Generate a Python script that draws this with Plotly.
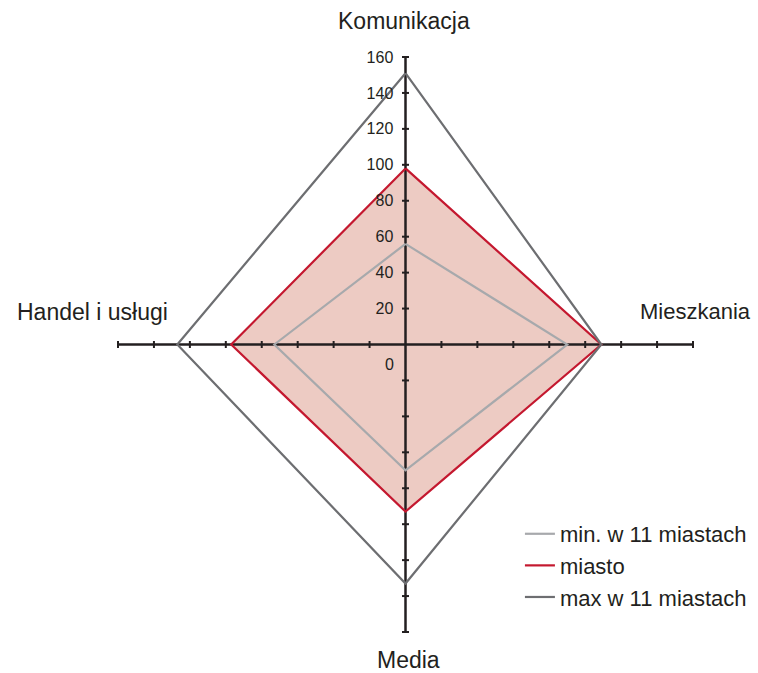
import plotly.graph_objects as go

# ---- data ----
categories = ["Komunikacja", "Mieszkania", "Media", "Handel i usługi"]
min_vals = [56, 90, 70, 73]
city_vals = [98, 109, 93, 97]
max_vals = [151, 109, 133, 127]
series_names = ["min. w 11 miastach", "miasto", "max w 11 miastach"]
axis_max = 160
tick_step = 20
tick_labels = ["20", "40", "60", "80", "100", "120", "140", "160"]

FONT = "Liberation Sans, Arial, Helvetica, sans-serif"
TXT = "#231F20"
AX = "#231F20"
C_MIN = "#A7A9AC"
C_CITY = "#C4182F"
C_MAX = "#6D6E71"
C_FILL = "rgba(222,160,146,0.55)"

# direction of each category arm: (dx, dy)
dirs = [(0, 1), (1, 0), (0, -1), (-1, 0)]


def to_xy(vals):
    xs = [v * d[0] for v, d in zip(vals, dirs)]
    ys = [v * d[1] for v, d in zip(vals, dirs)]
    return xs + xs[:1], ys + ys[:1]


fig = go.Figure()

# city fill
cx, cy = to_xy(city_vals)
fig.add_trace(go.Scatter(x=cx, y=cy, mode="none", fill="toself", fillcolor=C_FILL,
                         showlegend=False, hoverinfo="skip"))

# axes arms
fig.add_trace(go.Scatter(x=[-axis_max, axis_max], y=[0, 0], mode="lines",
                         line=dict(color=AX, width=2.5), showlegend=False,
                         hoverinfo="skip", cliponaxis=False))
fig.add_trace(go.Scatter(x=[0, 0], y=[-axis_max, axis_max], mode="lines",
                         line=dict(color=AX, width=2.5), showlegend=False,
                         hoverinfo="skip", cliponaxis=False))

# tick marks
tk = [t for t in range(-axis_max, axis_max + 1, tick_step) if t != 0]
fig.add_trace(go.Scatter(x=tk, y=[0] * len(tk), mode="markers",
                         marker=dict(symbol="line-ns", size=5, line=dict(color=AX, width=2)),
                         showlegend=False, hoverinfo="skip", cliponaxis=False))
fig.add_trace(go.Scatter(x=[0] * len(tk), y=tk, mode="markers",
                         marker=dict(symbol="line-ew", size=5, line=dict(color=AX, width=2)),
                         showlegend=False, hoverinfo="skip", cliponaxis=False))

# series lines
for vals, name, col in [(min_vals, series_names[0], C_MIN),
                        (city_vals, series_names[1], C_CITY),
                        (max_vals, series_names[2], C_MAX)]:
    x, y = to_xy(vals)
    fig.add_trace(go.Scatter(x=x, y=y, mode="lines", name=name, legendgroup=name,
                             line=dict(color=col, width=2.2), cliponaxis=False))

# category labels
ann = [
    dict(x=0, y=axis_max, text=categories[0], xshift=-2, yshift=36, size=23),
    dict(x=axis_max, y=0, text=categories[1], xshift=2, yshift=33, size=22),
    dict(x=0, y=-axis_max, text=categories[2], xshift=3, yshift=-28, size=23),
    dict(x=-axis_max, y=0, text=categories[3], xshift=-26, yshift=33, size=23),
]
for a in ann:
    sz = a.pop("size")
    fig.add_annotation(xref="x", yref="y", showarrow=False, xanchor="center", yanchor="middle",
                       font=dict(family=FONT, size=sz, color=TXT), **a)
# zero label
fig.add_annotation(xref="x", yref="y", x=0, y=0, text="0", showarrow=False,
                   xanchor="right", yanchor="middle", xshift=-10, yshift=-20,
                   font=dict(family=FONT, size=16, color=TXT))

fig.update_layout(
    width=758, height=673,
    margin=dict(l=118, r=65, t=57, b=41, autoexpand=False),
    paper_bgcolor="white", plot_bgcolor="white",
    font=dict(family=FONT, color=TXT),
    xaxis=dict(range=[-axis_max, axis_max], visible=False, fixedrange=True),
    yaxis=dict(range=[-axis_max, axis_max], anchor="free", position=0.5,
               showgrid=False, zeroline=False, showline=False,
               tickvals=list(range(tick_step, axis_max + 1, tick_step)),
               ticktext=tick_labels, ticks="outside", ticklen=9,
               tickcolor="rgba(0,0,0,0)",
               tickfont=dict(family=FONT, size=16, color=TXT), fixedrange=True),
    legend=dict(x=0.699, y=0.207, xanchor="left", yanchor="top",
                font=dict(family=FONT, size=22, color=TXT),
                tracegroupgap=0, bgcolor="rgba(0,0,0,0)"),
    showlegend=True,
)

fig.write_html("out.html", config={"displayModeBar": False},
               post_script="document.body.style.margin='0px';document.body.style.overflow='hidden';")
